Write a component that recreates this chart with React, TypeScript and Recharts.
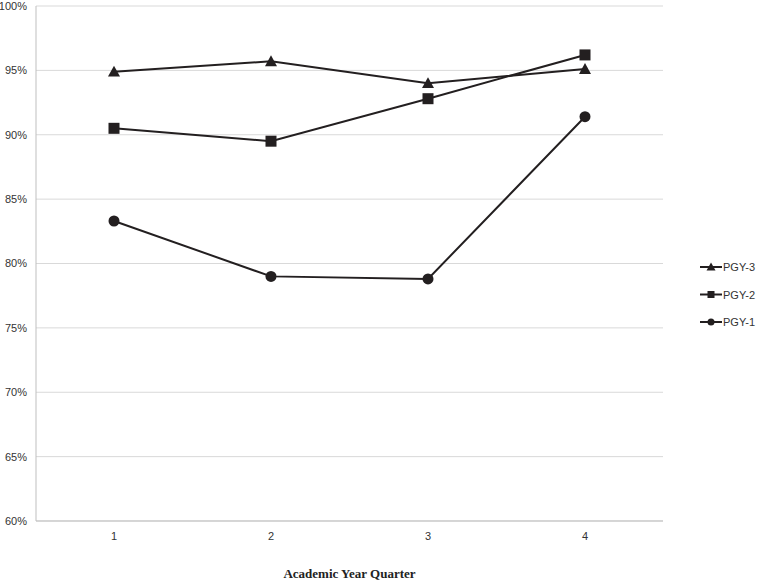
import { LineChart, Line, XAxis, YAxis, CartesianGrid, Legend } from 'recharts'

const quarters = ['1', '2', '3', '4']
const pgy1 = [83.3, 79.0, 78.8, 91.4]
const pgy2 = [90.5, 89.5, 92.8, 96.2]
const pgy3 = [94.9, 95.7, 94.0, 95.1]
const yTicks = [60, 65, 70, 75, 80, 85, 90, 95, 100]

const INK = '#231f20'
const TEXT = '#333333'
const SANS = '"Liberation Sans", Arial, sans-serif'

const data = quarters.map((q, i) => ({ q, pgy1: pgy1[i], pgy2: pgy2[i], pgy3: pgy3[i] }))

type Shape = 'triangle' | 'square' | 'circle'

function marker(shape: Shape, cx: number, cy: number, s: number) {
  if (shape === 'triangle') {
    const pts = `${cx},${cy - s} ${cx - s},${cy + s * 0.8} ${cx + s},${cy + s * 0.8}`
    return <polygon points={pts} fill={INK} />
  }
  if (shape === 'square') {
    return <rect x={cx - s} y={cy - s} width={s * 2} height={s * 2} fill={INK} />
  }
  return <circle cx={cx} cy={cy} r={s} fill={INK} />
}

const dotFor = (shape: Shape, s: number) => (p: any) => {
  if (p.cx == null || p.cy == null) return <g key={p.key} />
  return <g key={p.key}>{marker(shape, p.cx, p.cy, s)}</g>
}

// legend top to bottom: PGY-3, PGY-2, PGY-1
const legendItems: { name: string; shape: Shape }[] = [
  { name: 'PGY-3', shape: 'triangle' },
  { name: 'PGY-2', shape: 'square' },
  { name: 'PGY-1', shape: 'circle' },
]

function LegendBox() {
  return (
    <svg width={80} height={80}>
      {legendItems.map((it, i) => {
        const y = 9 + i * 27.5
        return (
          <g key={it.name}>
            <line x1={0} x2={22} y1={y} y2={y} stroke={INK} strokeWidth={2} />
            {marker(it.shape, 11, y, it.shape === 'triangle' ? 4.5 : 3.5)}
            <text x={23} y={y + 4} fontSize={11} fontFamily={SANS} fill={TEXT}>
              {it.name}
            </text>
          </g>
        )
      })}
    </svg>
  )
}

const tickStyle = { fontSize: 11, fontFamily: SANS, fill: TEXT, stroke: 'none' }

export default function App() {
  return (
    <div style={{ position: 'absolute', left: 0, top: 0, width: 773, height: 581, background: '#fff' }}>
      <LineChart width={773} height={581} data={data} margin={{ top: 6, right: 110, bottom: 0, left: 0 }}>
        <CartesianGrid vertical={false} stroke="#d9d9d9" />
        <XAxis
          dataKey="q"
          height={60}
          padding={{ left: 78, right: 78 }}
          stroke={TEXT}
          tickLine={false}
          tickSize={0}
          tickMargin={11}
          axisLine={{ stroke: '#bfbfbf' }}
          tick={tickStyle}
          label={{
            value: 'Academic Year Quarter',
            position: 'insideBottom',
            offset: 3,
            style: { fontSize: 13, fontWeight: 'bold', fontFamily: '"Liberation Serif", "Times New Roman", serif', fill: '#222', stroke: 'none' },
          }}
        />
        <YAxis
          width={36}
          domain={[60, 100]}
          ticks={yTicks}
          tickFormatter={(v) => `${v}%`}
          stroke={TEXT}
          tickLine={false}
          tickSize={0}
          tickMargin={9}
          axisLine={{ stroke: '#bfbfbf' }}
          tick={tickStyle}
        />
        <Legend
          layout="vertical"
          align="center"
          verticalAlign="middle"
          wrapperStyle={{ left: 700, top: 258, width: 80, height: 80 }}
          content={() => <LegendBox />}
        />
        <Line dataKey="pgy3" name="PGY-3" stroke={INK} strokeWidth={2} dot={dotFor('triangle', 6)} isAnimationActive={false} />
        <Line dataKey="pgy2" name="PGY-2" stroke={INK} strokeWidth={2} dot={dotFor('square', 5.5)} isAnimationActive={false} />
        <Line dataKey="pgy1" name="PGY-1" stroke={INK} strokeWidth={2} dot={dotFor('circle', 5.5)} isAnimationActive={false} />
      </LineChart>
    </div>
  )
}
